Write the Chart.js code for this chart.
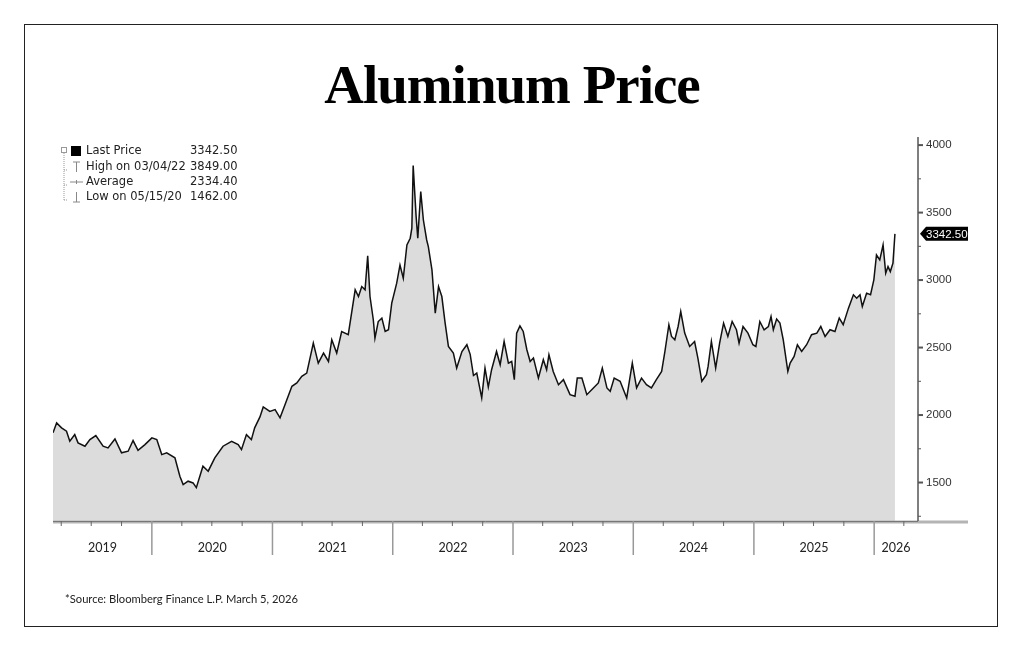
<!DOCTYPE html>
<html>
<head>
<meta charset="utf-8">
<script src="https://cdn.jsdelivr.net/npm/chart.js@4.4.1/dist/chart.umd.min.js"></script>
<style>
  html, body { margin: 0; padding: 0; background: #fff; }
  #page { position: relative; width: 1024px; height: 651px; overflow: hidden; }
  #frame { position: absolute; left: 24px; top: 24px; width: 972px; height: 601px; border: 1.5px solid #222; }
  #title { position: absolute; left: 0; width: 1024px; top: 57px; text-align: center;
           font-family: 'Liberation Serif', serif; font-weight: bold; font-size: 55px; line-height: 55px;
           letter-spacing: -1px; color: #000; }
  #source { position: absolute; left: 65px; top: 593px; font-family: Lato, sans-serif; font-size: 11.2px;
            line-height: 11px; color: #222; }
  canvas { position: absolute; left: 0; top: 0; }
</style>
</head>
<body>
<div id="page">
  <div id="frame"></div>
  <div id="title">Aluminum Price</div>
  <canvas id="myChart" width="1024" height="651"></canvas>
  <div id="source">*Source: Bloomberg Finance L.P. March 5, 2026</div>
</div>
<script>
// price series (USD / tonne)
const dates = [
    // 2019
    '2019-03-07','2019-03-18','2019-04-02','2019-04-17','2019-04-27','2019-05-12','2019-05-22','2019-06-12','2019-06-27','2019-07-15','2019-08-06','2019-08-21','2019-09-11','2019-10-01','2019-10-21','2019-11-05','2019-11-20','2019-12-11',
    // 2020
    '2020-01-01','2020-01-16','2020-01-31','2020-02-15','2020-03-11','2020-03-26','2020-04-05','2020-04-20','2020-05-05','2020-05-15','2020-06-04','2020-06-20','2020-07-10','2020-08-04','2020-08-30','2020-09-19','2020-09-29','2020-10-14','2020-10-29','2020-11-08','2020-11-24','2020-12-04','2020-12-24',
    // 2021
    '2021-01-09','2021-01-24','2021-02-08','2021-03-01','2021-03-16','2021-03-31','2021-04-15','2021-05-05','2021-05-20','2021-06-05','2021-06-20','2021-06-30','2021-07-15','2021-07-30','2021-08-19','2021-09-09','2021-09-19','2021-09-29','2021-10-09','2021-10-17','2021-10-24','2021-11-03','2021-11-08','2021-11-18','2021-11-29','2021-12-09','2021-12-19','2021-12-29',
    // 2022
    '2022-01-13','2022-01-23','2022-02-02','2022-02-13','2022-02-23','2022-02-28','2022-03-04','2022-03-13','2022-03-18','2022-03-27','2022-04-04','2022-04-14','2022-04-19','2022-04-30','2022-05-10','2022-05-20','2022-05-30','2022-06-09','2022-06-19','2022-07-04','2022-07-14','2022-07-30','2022-08-14','2022-08-24','2022-09-03','2022-09-13','2022-09-28','2022-10-08','2022-10-18','2022-10-28','2022-11-12','2022-11-23','2022-12-05','2022-12-18','2022-12-28',
    // 2023
    '2023-01-05','2023-01-12','2023-01-22','2023-02-01','2023-02-12','2023-02-22','2023-03-04','2023-03-19','2023-04-03','2023-04-13','2023-04-20','2023-05-03','2023-05-19','2023-06-03','2023-06-23','2023-07-08','2023-07-15','2023-07-29','2023-08-13','2023-09-02','2023-09-17','2023-09-29','2023-10-13','2023-10-23','2023-11-04','2023-11-22','2023-12-12','2023-12-20','2023-12-29',
    // 2024
    '2024-01-11','2024-01-26','2024-02-10','2024-02-25','2024-03-11','2024-03-27','2024-04-06','2024-04-18','2024-04-26','2024-05-06','2024-05-16','2024-05-24','2024-06-05','2024-06-20','2024-07-05','2024-07-15','2024-07-27','2024-08-10','2024-08-15','2024-08-25','2024-09-07','2024-09-19','2024-10-01','2024-10-14','2024-10-27','2024-11-09','2024-11-17','2024-11-29','2024-12-14','2024-12-29',
    // 2025
    '2025-01-07','2025-01-19','2025-02-01','2025-02-14','2025-02-22','2025-03-01','2025-03-11','2025-03-21','2025-03-31','2025-04-14','2025-04-21','2025-05-03','2025-05-13','2025-05-26','2025-06-10','2025-06-25','2025-07-11','2025-07-23','2025-08-05','2025-08-20','2025-09-04','2025-09-17','2025-09-29','2025-10-15','2025-10-30','2025-11-09','2025-11-19','2025-11-26','2025-12-09','2025-12-21','2025-12-31',
    // 2026
    '2026-01-08','2026-01-18','2026-01-28','2026-02-05','2026-02-12','2026-02-19','2026-02-27','2026-03-05'
];
const prices = [
    // 2019
    1868,1942,1905,1880,1806,1855,1794,1769,1818,1848,1769,1757,1823,1720,1732,1811,1739,1781,
    // 2020
    1831,1818,1707,1720,1683,1547,1485,1510,1497,1462,1621,1584,1683,1769,1806,1781,1744,1855,1818,1905,1986,2060,2027,
    // 2021
    2040,1979,2077,2213,2238,2287,2311,2533,2385,2459,2397,2558,2459,2619,2595,2928,2878,2952,2928,3179,2878,2706,2570,2693,2718,2619,2632,2829,
    // 2022
    2977,3112,3014,3260,3310,3384,3849,3470,3310,3655,3445,3297,3248,3075,2755,2952,2878,2681,2508,2459,2348,2471,2521,2450,2293,2311,2127,2348,2207,2336,2471,2373,2545,2385,2397,
    // 2023
    2262,2607,2661,2619,2484,2397,2422,2274,2410,2336,2447,2323,2225,2262,2151,2139,2274,2274,2151,2201,2238,2348,2201,2176,2274,2250,2127,2250,2385,
    // 2024
    2201,2274,2225,2201,2262,2323,2471,2669,2582,2558,2656,2767,2607,2508,2545,2422,2250,2299,2360,2545,2348,2533,2681,2582,2693,2632,2533,2656,2607,2521,
    // 2025
    2508,2693,2632,2656,2730,2632,2711,2681,2558,2323,2385,2434,2521,2471,2521,2595,2607,2656,2582,2632,2619,2718,2669,2792,2891,2866,2891,2804,2903,2891,3002,
    // 2026
    3186,3149,3260,3051,3100,3063,3125,3342.5
];

const yearLabels = [2019, 2020, 2021, 2022, 2023, 2024, 2025, 2026];
const yMajorTicks = [1500, 2000, 2500, 3000, 3500, 4000];
const yMinorTicks = [1250, 1750, 2250, 2750, 3250, 3750];
const legendLabels = ['Last Price', 'High on 03/04/22', 'Average', 'Low on 05/15/20'];
const legendValues = ['3342.50', '3849.00', '2334.40', '1462.00'];
const lastPriceLabel = '3342.50';

const xMin = Date.UTC(2019, 2, 7);
const xMax = Date.UTC(2026, 4, 14);

const points = dates.map((d, i) => ({ x: Date.parse(d), y: prices[i] }));

// axes, year bands, price tag and legend box
const decorPlugin = {
    id: 'decor',
    afterDraw(chart) {
        const ctx = chart.ctx;
        const area = chart.chartArea;
        const xs = chart.scales.x;
        const ys = chart.scales.y;
        ctx.save();

        // bottom axis
        ctx.strokeStyle = '#b4b4b4';
        ctx.lineWidth = 3;
        ctx.beginPath();
        ctx.moveTo(area.left, area.bottom + 1);
        ctx.lineTo(968, area.bottom + 1);
        ctx.stroke();
        ctx.strokeStyle = '#777';
        ctx.lineWidth = 1;
        ctx.beginPath();
        ctx.moveTo(area.left, area.bottom + 0.5);
        ctx.lineTo(area.right, area.bottom + 0.5);
        ctx.stroke();

        // right axis
        ctx.strokeStyle = '#555';
        ctx.lineWidth = 1.5;
        ctx.beginPath();
        ctx.moveTo(area.right, area.top);
        ctx.lineTo(area.right, area.bottom);
        ctx.stroke();
        yMajorTicks.forEach(v => {
            const y = ys.getPixelForValue(v);
            ctx.lineWidth = 2;
            ctx.beginPath();
            ctx.moveTo(area.right, y);
            ctx.lineTo(area.right + 5, y);
            ctx.stroke();
        });
        yMinorTicks.forEach(v => {
            const y = ys.getPixelForValue(v);
            ctx.lineWidth = 1;
            ctx.beginPath();
            ctx.moveTo(area.right, y);
            ctx.lineTo(area.right + 3, y);
            ctx.stroke();
        });

        // year dividers, quarter ticks and labels
        ctx.font = '12.5px Lato';
        ctx.fillStyle = '#222';
        ctx.textAlign = 'center';
        ctx.textBaseline = 'middle';
        yearLabels.forEach(year => {
            const start = Math.max(area.left, xs.getPixelForValue(Date.UTC(year, 0, 1)));
            const end = Math.min(area.right, xs.getPixelForValue(Date.UTC(year + 1, 0, 1)));
            if (xs.getPixelForValue(Date.UTC(year, 0, 1)) > area.left) {
                ctx.strokeStyle = '#999';
                ctx.lineWidth = 1.5;
                ctx.beginPath();
                ctx.moveTo(start, area.bottom);
                ctx.lineTo(start, area.bottom + 34);
                ctx.stroke();
            }
            [3, 6, 9].forEach(m => {
                const qx = xs.getPixelForValue(Date.UTC(year, m, 1));
                if (qx > area.left && qx < area.right) {
                    ctx.strokeStyle = '#666';
                    ctx.lineWidth = 1;
                    ctx.beginPath();
                    ctx.moveTo(qx, area.bottom);
                    ctx.lineTo(qx, area.bottom + 5);
                    ctx.stroke();
                }
            });
            ctx.fillText(String(year), (start + end) / 2, 548);
        });

        // last price tag
        const last = prices[prices.length - 1];
        const ty = ys.getPixelForValue(last);
        ctx.fillStyle = '#000';
        ctx.beginPath();
        ctx.moveTo(area.right + 2, ty);
        ctx.lineTo(area.right + 8, ty - 7);
        ctx.lineTo(968, ty - 7);
        ctx.lineTo(968, ty + 7);
        ctx.lineTo(area.right + 8, ty + 7);
        ctx.closePath();
        ctx.fill();
        ctx.fillStyle = '#fff';
        ctx.font = '11.5px "Liberation Sans"';
        ctx.textAlign = 'left';
        ctx.fillText(lastPriceLabel, area.right + 8, ty + 0.5);

        // legend
        const rows = [151, 167, 182, 197];
        ctx.strokeStyle = '#999';
        ctx.lineWidth = 1;
        ctx.strokeRect(61.5, 147.5, 5, 5);
        ctx.setLineDash([1, 1]);
        ctx.beginPath();
        ctx.moveTo(64, 153);
        ctx.lineTo(64, rows[3] + 3);
        rows.slice(1).forEach(r => {
            ctx.moveTo(64, r + 3);
            ctx.lineTo(68, r + 3);
        });
        ctx.stroke();
        ctx.setLineDash([]);
        ctx.fillStyle = '#000';
        ctx.fillRect(71, 146, 10, 10);
        ctx.strokeStyle = '#888';
        ctx.beginPath();
        ctx.moveTo(73, rows[1] - 5); ctx.lineTo(80, rows[1] - 5);
        ctx.moveTo(76.5, rows[1] - 5); ctx.lineTo(76.5, rows[1] + 5);
        ctx.moveTo(70, rows[2]); ctx.lineTo(83, rows[2]);
        ctx.moveTo(76.5, rows[2] - 2); ctx.lineTo(76.5, rows[2] + 2);
        ctx.moveTo(76.5, rows[3] - 5); ctx.lineTo(76.5, rows[3] + 5);
        ctx.moveTo(73, rows[3] + 5); ctx.lineTo(80, rows[3] + 5);
        ctx.stroke();
        ctx.fillStyle = '#222';
        ctx.font = '11.5px "DejaVu Sans"';
        ctx.textBaseline = 'middle';
        legendLabels.forEach((label, i) => {
            ctx.fillText(label, 86, rows[i]);
            ctx.fillText(legendValues[i], 190, rows[i]);
        });

        ctx.restore();
    }
};

const ctx = document.getElementById('myChart').getContext('2d');
const myChart = new Chart(ctx, {
    type: 'line',
    data: {
        datasets: [{
            label: 'Last Price',
            data: points,
            borderColor: '#111',
            borderWidth: 1.5,
            backgroundColor: '#dcdcdc',
            fill: 'start',
            pointRadius: 0,
            tension: 0
        }]
    },
    options: {
        responsive: false,
        animation: false,
        layout: {
            padding: { left: 53, top: 137, right: 0, bottom: 130 }
        },
        scales: {
            x: {
                type: 'linear',
                min: xMin,
                max: xMax,
                display: false
            },
            y: {
                position: 'right',
                min: 1215,
                max: 4060,
                afterBuildTicks: scale => {
                    scale.ticks = yMajorTicks.map(v => ({ value: v }));
                },
                afterFit: scale => {
                    scale.width = 106;
                },
                grid: { display: false, drawTicks: false },
                border: { display: false },
                ticks: {
                    padding: 8,
                    color: '#333',
                    font: { family: 'Liberation Sans', size: 11.5 },
                    callback: value => String(value)
                }
            }
        },
        plugins: {
            legend: { display: false },
            tooltip: { enabled: false }
        }
    },
    plugins: [decorPlugin]
});
</script>
</body>
</html>
